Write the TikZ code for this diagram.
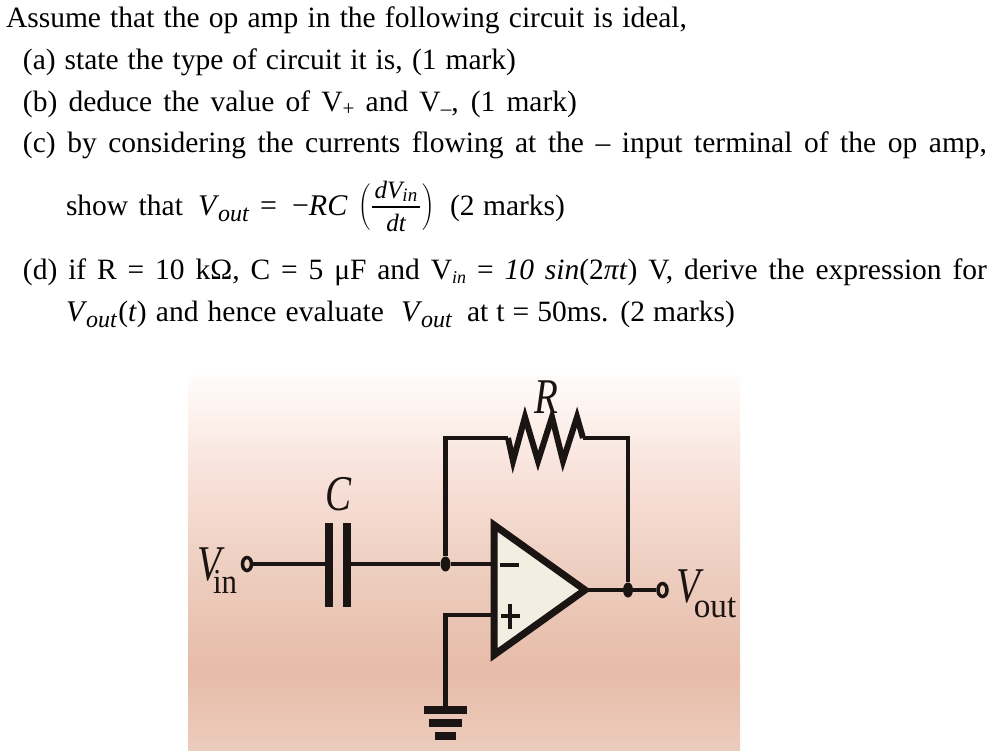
\documentclass[tikz,border=0pt]{standalone}
\usepackage{fontspec}
\setmainfont{Liberation Serif}
\usetikzlibrary{calc,shapes.geometric}
\definecolor{inkc}{HTML}{1A1412}
\definecolor{ampfill}{HTML}{F3EEE2}
\newcommand{\fitline}[2]{\hbox to #1pt{#2}}
\newcommand{\subit}[1]{\raisebox{-6pt}{\fontsize{24}{24}\selectfont\textit{#1}}}
\newcommand{\subup}[1]{\raisebox{-4pt}{\fontsize{21}{21}\selectfont #1}}
\newcommand{\subin}{\raisebox{-4pt}{\fontsize{18}{18}\selectfont\textit{in}}}
\newcommand{\Vo}{{\fontsize{30}{32}\selectfont\textit{V}\kern-1pt\subit{out}}}
\tikzset{
  x=1pt,y=-1pt,
  txt/.style={anchor=base west,inner sep=0pt,outer sep=0pt,font=\fontsize{29.5}{32}\selectfont,text=black},
  wire/.style={draw=inkc,line width=4.5pt,line cap=butt,line join=miter},
  zig/.style={draw=inkc,line width=6pt,line cap=butt,line join=miter},
  plate/.style={draw=inkc,line width=7.5pt},
  dotn/.style={ellipse,fill=inkc,inner sep=0pt,minimum width=10pt,minimum height=15pt},
  term/.style={ellipse,draw=inkc,line width=3.5pt,fill=none,inner sep=0pt,minimum width=9pt,minimum height=13pt},
  amp/.style={draw=inkc,line width=7pt,fill=ampfill,line join=miter},
  clabel/.style={inner sep=0pt,outer sep=0pt,text=inkc,anchor=base},
  bigit/.style={clabel,font=\fontsize{50}{50}\selectfont\itshape,xscale=0.78},
  subl/.style={clabel,font=\fontsize{35}{35}\selectfont},
  frac/.style={inner sep=0pt,anchor=base,font=\fontsize{25}{25}\selectfont\itshape},
}
\begin{document}
\begin{tikzpicture}
\useasboundingbox (0,0) rectangle (991,754);
\fill[white] (0,0) rectangle (991,754);
% background
\shade[top color={rgb,255:red,255;green,252;blue,250},bottom color={rgb,255:red,248;green,224;blue,216}] (188,375) rectangle (740,481);
\shade[top color={rgb,255:red,248;green,224;blue,216},bottom color={rgb,255:red,238;green,208;blue,194}] (188,480) rectangle (740,561);
\shade[top color={rgb,255:red,238;green,208;blue,194},bottom color={rgb,255:red,231;green,187;blue,168}] (188,560) rectangle (740,671);
\shade[top color={rgb,255:red,231;green,187;blue,168},bottom color={rgb,255:red,236;green,204;blue,189}] (188,670) rectangle (740,750);
% question text
\node[txt] (l1) at (6,28) {\fitline{681}{Assume that the op amp in the following circuit is ideal,}};
\node[txt] (l2) at (23,70) {\fitline{493}{(a) state the type of circuit it is, (1 mark)}};
\node[txt] (l3) at (23,111.5) {\fitline{554}{(b) deduce the value of V\subup{+} and V\subup{–}, (1 mark)}};
\node[txt] (l4) at (23,153) {\fitline{964}{(c) by considering the currents flowing at the – input terminal of the op amp,}};
\node[txt] (l5) at (66,216) {\fitline{117}{show that}};
\node[txt] (l5b) at (198,216) {\Vo};
\node[txt,font=\fontsize{30}{32}\selectfont] (l5c) at (260,216) {=};
\node[txt,font=\fontsize{30}{32}\selectfont] (l5d) at (292,216) {−\textit{RC}};
\node[inner sep=0pt,scale=1.55] (lp) at (365,207) {$\Bigg($};
\node[inner sep=0pt,scale=1.55] (rp) at (429,207) {$\Bigg)$};
\node[frac] (fn) at (396,199) {dV\raisebox{-3pt}{\fontsize{19}{19}\selectfont in}};
\node[frac] (fd) at (396,232) {dt};
\draw[black,line width=1.6pt] (372,207) -- (420,207);
\node[txt] (l5e) at (450,216) {\fitline{115}{(2 marks)}};
\node[txt] (l6) at (23,279.5) {\fitline{964}{(d) if R = 10 kΩ, C = 5 μF and V\subin{} = \textit{10 sin}(2\textit{πt}) V, derive the expression for}};
\node[txt] (l7) at (66,321.5) {\fitline{318}{\Vo\kern1pt(\textit{t}) and hence evaluate}};
\node[txt] (l7b) at (401,321.5) {\Vo};
\node[txt] (l7c) at (467,321.5) {\fitline{268}{at t = 50ms. (2 marks)}};
% circuit points
\coordinate (vinT) at (247,564);
\coordinate (capL) at (329,564);
\coordinate (capR) at (347,564);
\coordinate (jn) at (445.5,564);
\coordinate (minus) at (494,564);
\coordinate (plus) at (494,615);
\coordinate (gndT) at (445.5,710);
\coordinate (tip) at (585,590);
\coordinate (out) at (628,590);
\coordinate (voutT) at (662.5,590);
% op amp
\draw[amp] (494,525) -- (494,655) -- (tip) -- cycle;
\node[inner sep=0pt,minimum width=19pt,minimum height=4pt,fill=inkc] (mn) at (509.5,565) {};
\node[inner sep=0pt,minimum width=19pt,minimum height=4pt,fill=inkc] (ph) at (510,616) {};
\node[inner sep=0pt,minimum width=4pt,minimum height=25pt,fill=inkc] (pv) at (510,616) {};
% nodes
\node[term] (vin) at (vinT) {};
\node[term] (vout) at (voutT) {};
\node[dotn] (d1) at (jn) {};
\node[dotn] (d2) at (out) {};
% wires
\draw[wire] (vin) -- (capL);
\draw[plate] (329,523) -- (329,607);
\draw[plate] (347,523) -- (347,607);
\draw[wire] (capR) -- (d1);
\draw[wire] (d1) -- (minus);
\draw[wire] (d1) |- (508,438);
\draw[zig] (508,438) -- (513,461) -- (525,417) -- (538,461) -- (552,417) -- (563,461) -- (577,417) -- (583,438);
\draw[wire] (583,438) -| (d2);
\draw[wire] (tip) -- (d2);
\draw[wire] (d2) -- (vout);
\draw[wire] (plus) -| (gndT);
% ground
\draw[plate] (424,710) -- (467,710);
\draw[plate] (429,723) -- (462,723);
\draw[plate] (434.5,736) -- (456,736);
% labels
\node[bigit] (lr) at (546,413) {R};
\node[bigit] (lc) at (339,510) {C};
\node[bigit] (lvi) at (209,580) {V};
\node[subl,xscale=0.88] (lin) at (225,593) {in};
\node[bigit] (lvo) at (688,602) {V};
\node[subl,xscale=0.95] (lou) at (715,617) {out};
\end{tikzpicture}
\end{document}
